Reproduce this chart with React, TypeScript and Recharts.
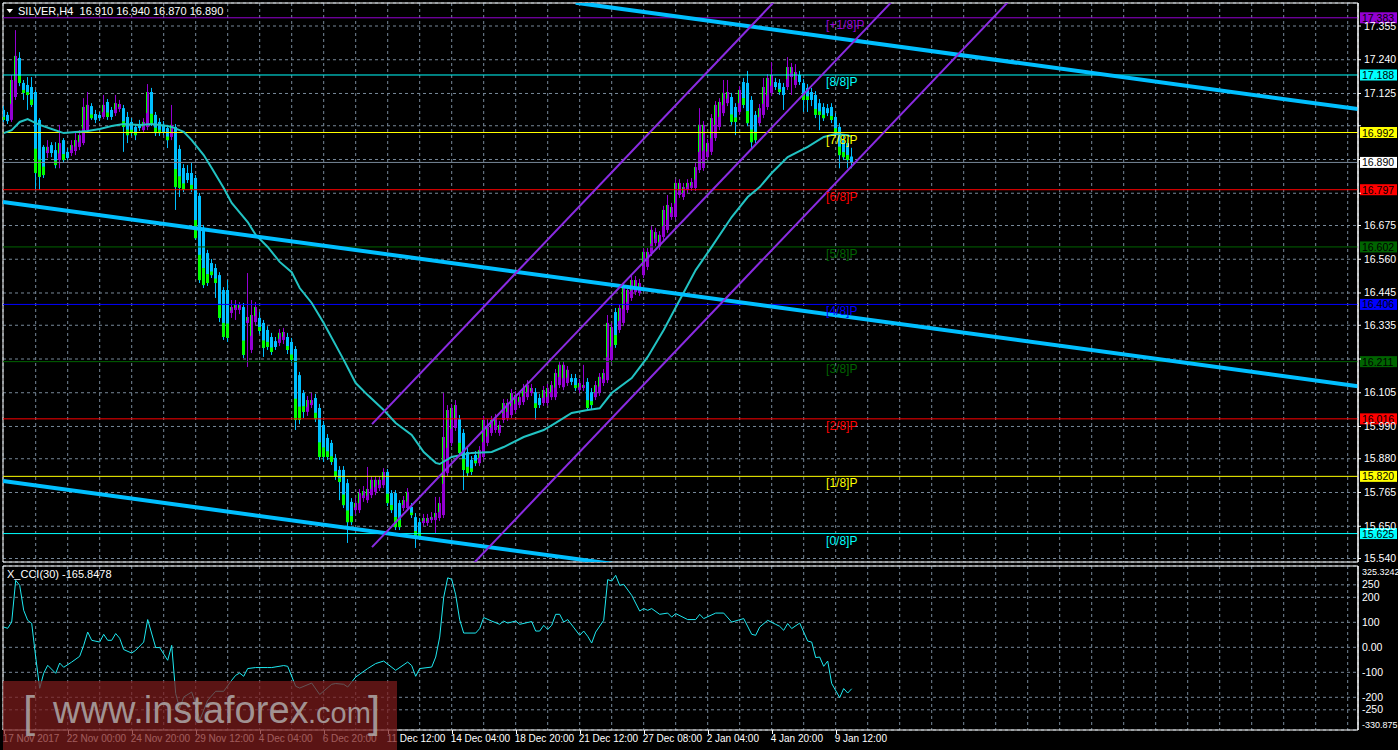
import React from 'react';
import {
  ComposedChart,
  Bar,
  Line,
  XAxis,
  YAxis,
  CartesianGrid,
  ReferenceLine,
  ReferenceArea,
  ReferenceDot,
} from 'recharts';

// [open, high, low, close] per 4h bar, 17 Nov 2017 .. 9 Jan 2018
const CANDLES: [number, number, number, number][] = [
  [17.069, 17.082, 17.028, 17.035], [17.052, 17.062, 17.021, 17.031], [17.035, 17.188, 17.028, 17.171], [17.113, 17.341, 17.103, 17.253],
  [17.246, 17.266, 17.150, 17.161], [17.161, 17.171, 17.103, 17.127], [17.154, 17.181, 17.069, 17.120], [17.147, 17.181, 17.079, 17.086],
  [17.130, 17.137, 16.796, 16.854], [17.035, 17.041, 16.796, 16.841], [16.943, 16.949, 16.837, 16.847], [16.922, 16.966, 16.905, 16.943],
  [16.949, 16.959, 16.908, 16.922], [16.932, 16.959, 16.870, 16.881], [16.898, 17.018, 16.870, 16.956], [16.966, 16.973, 16.888, 16.898],
  [16.926, 16.939, 16.898, 16.905], [16.922, 16.966, 16.912, 16.949], [16.929, 16.994, 16.915, 16.966], [16.943, 17.000, 16.932, 16.983],
  [16.956, 17.109, 16.949, 17.079], [17.000, 17.130, 16.994, 17.086], [17.082, 17.092, 17.035, 17.041], [17.055, 17.069, 17.024, 17.035],
  [17.052, 17.062, 17.031, 17.041], [17.045, 17.120, 17.038, 17.086], [17.096, 17.106, 17.035, 17.045], [17.069, 17.079, 17.035, 17.045],
  [17.058, 17.120, 17.048, 17.092], [17.072, 17.103, 17.062, 17.089], [17.075, 17.086, 16.926, 17.011], [17.045, 17.062, 16.956, 16.983],
  [17.028, 17.041, 16.980, 16.990], [17.011, 17.021, 16.966, 16.983], [17.018, 17.035, 16.997, 17.007], [17.000, 17.041, 16.990, 17.028],
  [17.011, 17.157, 17.000, 17.130], [17.130, 17.144, 17.014, 17.024], [17.052, 17.062, 16.980, 16.990], [17.028, 17.041, 16.980, 16.990],
  [17.018, 17.031, 16.983, 16.994], [17.007, 17.018, 16.939, 16.966], [16.977, 17.086, 16.966, 17.018], [17.011, 17.021, 16.728, 16.806],
  [16.936, 16.949, 16.772, 16.803], [16.871, 16.884, 16.789, 16.796], [16.854, 16.881, 16.820, 16.830], [16.854, 16.888, 16.789, 16.796],
  [16.837, 16.847, 16.626, 16.632], [16.776, 16.786, 16.479, 16.489], [16.667, 16.677, 16.462, 16.472], [16.581, 16.592, 16.469, 16.479],
  [16.547, 16.561, 16.496, 16.506], [16.530, 16.544, 16.428, 16.479], [16.506, 16.516, 16.346, 16.360], [16.455, 16.465, 16.285, 16.295],
  [16.455, 16.489, 16.278, 16.292], [16.377, 16.421, 16.360, 16.397], [16.387, 16.421, 16.353, 16.404], [16.387, 16.414, 16.373, 16.404],
  [16.397, 16.411, 16.223, 16.234], [16.343, 16.513, 16.193, 16.363], [16.251, 16.421, 16.240, 16.370], [16.346, 16.414, 16.336, 16.397],
  [16.360, 16.380, 16.305, 16.316], [16.343, 16.353, 16.227, 16.258], [16.319, 16.332, 16.251, 16.261], [16.295, 16.309, 16.234, 16.244],
  [16.281, 16.295, 16.251, 16.261], [16.275, 16.322, 16.264, 16.309], [16.285, 16.326, 16.271, 16.312], [16.295, 16.309, 16.237, 16.251],
  [16.278, 16.292, 16.206, 16.217], [16.254, 16.264, 15.978, 16.012], [16.165, 16.176, 15.998, 16.012], [16.104, 16.114, 16.019, 16.040],
  [16.040, 16.094, 16.026, 16.080], [16.063, 16.104, 16.053, 16.080], [16.087, 16.101, 16.005, 16.015], [16.053, 16.067, 15.876, 15.886],
  [15.995, 16.009, 15.869, 15.886], [15.951, 15.964, 15.876, 15.886], [15.934, 15.944, 15.859, 15.869], [15.883, 15.896, 15.808, 15.818],
  [15.842, 15.855, 15.739, 15.801], [15.842, 15.855, 15.712, 15.722], [15.797, 15.811, 15.593, 15.664], [15.733, 15.746, 15.654, 15.664],
  [15.705, 15.746, 15.692, 15.729], [15.705, 15.777, 15.695, 15.763], [15.746, 15.787, 15.733, 15.770], [15.739, 15.852, 15.729, 15.777],
  [15.756, 15.821, 15.746, 15.808], [15.767, 15.821, 15.756, 15.808], [15.780, 15.821, 15.770, 15.808], [15.790, 15.848, 15.780, 15.835],
  [15.835, 15.845, 15.719, 15.729], [15.763, 15.773, 15.695, 15.705], [15.763, 15.773, 15.637, 15.647], [15.729, 15.739, 15.637, 15.647],
  [15.712, 15.753, 15.702, 15.739], [15.712, 15.780, 15.702, 15.767], [15.716, 15.729, 15.678, 15.688], [15.681, 15.695, 15.576, 15.613],
  [15.664, 15.678, 15.603, 15.613], [15.661, 15.692, 15.651, 15.678], [15.661, 15.692, 15.651, 15.678], [15.671, 15.698, 15.661, 15.681],
  [15.671, 15.750, 15.627, 15.695], [15.678, 15.750, 15.668, 15.729], [15.688, 16.104, 15.678, 15.954], [15.831, 16.063, 15.821, 16.046],
  [15.934, 16.067, 15.923, 16.053], [15.985, 16.080, 15.975, 16.063], [16.015, 16.029, 15.889, 15.900], [15.968, 15.981, 15.773, 15.842],
  [15.903, 15.917, 15.821, 15.831], [15.876, 15.889, 15.825, 15.835], [15.893, 15.906, 15.855, 15.865], [15.865, 15.923, 15.855, 15.910],
  [15.886, 16.026, 15.876, 16.012], [15.934, 16.015, 15.923, 15.988], [15.968, 16.026, 15.958, 16.012], [15.978, 16.033, 15.968, 16.019],
  [15.968, 16.009, 15.958, 15.995], [16.012, 16.084, 16.002, 16.070], [16.019, 16.084, 16.009, 16.070], [16.029, 16.118, 16.019, 16.104],
  [16.046, 16.111, 16.036, 16.097], [16.063, 16.104, 16.053, 16.090], [16.073, 16.135, 16.063, 16.121], [16.090, 16.148, 16.080, 16.131],
  [16.104, 16.135, 16.094, 16.121], [16.107, 16.121, 16.012, 16.053], [16.087, 16.101, 16.053, 16.063], [16.070, 16.128, 16.060, 16.114],
  [16.070, 16.135, 16.060, 16.121], [16.090, 16.145, 16.080, 16.131], [16.090, 16.186, 16.080, 16.172], [16.131, 16.213, 16.121, 16.200],
  [16.124, 16.213, 16.114, 16.200], [16.138, 16.196, 16.128, 16.183], [16.155, 16.169, 16.131, 16.142], [16.155, 16.169, 16.111, 16.121],
  [16.114, 16.152, 16.104, 16.138], [16.121, 16.200, 16.111, 16.131], [16.142, 16.155, 16.043, 16.053], [16.107, 16.121, 16.046, 16.063],
  [16.090, 16.145, 16.080, 16.131], [16.104, 16.172, 16.094, 16.159], [16.138, 16.186, 16.128, 16.172], [16.148, 16.370, 16.138, 16.343],
  [16.217, 16.343, 16.206, 16.329], [16.380, 16.394, 16.258, 16.268], [16.319, 16.407, 16.309, 16.394], [16.343, 16.476, 16.332, 16.462],
  [16.387, 16.469, 16.377, 16.455], [16.428, 16.503, 16.418, 16.489], [16.448, 16.503, 16.438, 16.489], [16.445, 16.493, 16.435, 16.479],
  [16.506, 16.598, 16.496, 16.585], [16.534, 16.598, 16.523, 16.585], [16.581, 16.673, 16.571, 16.660], [16.615, 16.667, 16.605, 16.653],
  [16.602, 16.656, 16.592, 16.643], [16.636, 16.742, 16.626, 16.728], [16.660, 16.779, 16.650, 16.745], [16.704, 16.752, 16.694, 16.738],
  [16.704, 16.833, 16.694, 16.820], [16.779, 16.833, 16.769, 16.820], [16.772, 16.820, 16.762, 16.806], [16.796, 16.833, 16.786, 16.820],
  [16.803, 16.837, 16.793, 16.823], [16.803, 16.888, 16.793, 16.874], [16.864, 17.075, 16.854, 17.018], [16.871, 17.031, 16.861, 17.018],
  [16.908, 16.970, 16.898, 16.956], [16.926, 17.055, 16.915, 17.041], [16.973, 17.099, 16.963, 17.086], [17.011, 17.109, 17.000, 17.096],
  [17.058, 17.171, 17.048, 17.127], [17.092, 17.171, 17.082, 17.130], [17.113, 17.127, 17.018, 17.028], [17.079, 17.092, 16.983, 17.028],
  [17.062, 17.150, 17.052, 17.137], [17.164, 17.178, 17.075, 17.086], [17.161, 17.202, 17.014, 17.024], [17.103, 17.116, 16.939, 16.959],
  [17.052, 17.065, 16.956, 16.966], [17.024, 17.089, 17.014, 17.075], [17.052, 17.178, 17.041, 17.147], [17.079, 17.191, 17.069, 17.178],
  [17.127, 17.232, 17.116, 17.188], [17.164, 17.178, 17.137, 17.147], [17.161, 17.174, 17.120, 17.130], [17.147, 17.161, 17.069, 17.120],
  [17.147, 17.249, 17.137, 17.215], [17.181, 17.229, 17.120, 17.215], [17.154, 17.225, 17.144, 17.198], [17.188, 17.202, 17.154, 17.164],
  [17.161, 17.174, 17.062, 17.103], [17.144, 17.157, 17.062, 17.103], [17.130, 17.144, 17.082, 17.103], [17.120, 17.133, 17.041, 17.052],
  [17.092, 17.106, 17.000, 17.052], [17.079, 17.092, 17.031, 17.041], [17.075, 17.089, 17.048, 17.058], [17.079, 17.092, 17.024, 17.035],
  [17.045, 17.058, 16.980, 16.990], [17.011, 17.024, 16.870, 16.915], [16.966, 16.980, 16.898, 16.908], [16.956, 16.970, 16.870, 16.898],
  [16.910, 16.940, 16.870, 16.890],
];

// moving average, read at selected bars: [bar, value]
const MA_POINTS: [number, number][] = [
  [0, 16.990], [2, 17.0], [4, 17.028], [6, 17.038], [7, 17.031], [9, 17.018], [12, 17.004], [15, 16.99], [18, 16.994],
  [21, 16.997], [24, 17.004], [27, 17.014], [30, 17.021], [34, 17.018], [37, 17.021], [41, 17.014], [42, 17.011],
  [45, 16.994], [47, 16.966], [50, 16.915], [52, 16.871], [55, 16.803], [57, 16.752], [61, 16.687], [63, 16.643],
  [66, 16.602], [69, 16.551], [72, 16.516], [74, 16.462], [77, 16.411], [80, 16.343], [85, 16.217], [88, 16.138],
  [91, 16.097], [95, 16.046], [98, 16.002], [102, 15.961], [105, 15.903], [108, 15.866], [109, 15.862], [112, 15.886],
  [117, 15.9], [122, 15.903], [125, 15.92], [130, 15.954], [135, 15.978], [138, 16.002], [142, 16.036], [146, 16.046],
  [149, 16.052], [152, 16.104], [157, 16.155], [161, 16.227], [165, 16.319], [169, 16.421], [173, 16.523], [177, 16.602],
  [182, 16.704], [186, 16.772], [189, 16.806], [192, 16.854], [196, 16.908], [201, 16.943], [205, 16.977], [208, 16.987],
  [211, 16.983], [212, 16.977],
];

// X_CCI(30): [bar, value]
const CCI_POINTS: [number, number][] = [
  [0, 81], [1, 76], [2, 101], [3, 268], [4, 248], [5, 148], [6, 108], [7, 96], [8, -39], [9, -164], [10, -104], [11, -72],
  [13, -104], [14, -63], [15, -80], [17, -59], [19, -36], [20, 8], [21, 61], [22, 28], [24, 21], [25, 52], [26, 28], [27, 28],
  [28, 55], [29, 36], [30, -9], [32, -23], [33, -12], [35, 21], [36, 111], [38, -1], [39, -1], [41, -52], [42, 8], [43, -185],
  [44, -245], [45, -199], [47, -179], [48, -225], [49, -292], [51, -212], [53, -176], [55, -176], [57, -132], [58, -112],
  [59, -103], [60, -116], [61, -85], [63, -81], [66, -81], [67, -81], [70, -73], [71, -76], [73, -156], [74, -163], [77, -143],
  [79, -189], [82, -148], [83, -145], [85, -148], [86, -159], [88, -119], [91, -85], [93, -65], [95, -55], [98, -92], [101, -59],
  [102, -73], [103, -116], [104, -85], [107, -79], [108, -39], [109, 41], [110, 200], [111, 278], [112, 272], [113, 210],
  [114, 110], [115, 57], [118, 57], [119, 75], [120, 119], [122, 105], [124, 92], [125, 105], [126, 97], [128, 105], [129, 92],
  [132, 103], [133, 65], [134, 65], [135, 88], [136, 71], [137, 88], [138, 132], [139, 132], [140, 101], [141, 111], [144, 48],
  [145, 65], [146, 44], [147, 17], [148, 61], [150, 108], [151, 271], [152, 265], [153, 288], [154, 248], [155, 252], [157, 208],
  [159, 145], [160, 155], [161, 148], [162, 155], [164, 132], [166, 137], [167, 121], [168, 135], [171, 111], [173, 111],
  [174, 132], [175, 115], [178, 137], [180, 137], [182, 101], [185, 115], [187, 52], [188, 48], [189, 81], [191, 108], [193, 92],
  [194, 84], [195, 68], [196, 95], [197, 75], [199, 97], [201, 25], [202, 21], [203, -41], [204, -39], [205, -76], [206, -55],
  [207, -145], [209, -201], [210, -165], [211, -183], [212, -165.8478],
];

const TIME_LABELS = [
  '17 Nov 2017', '22 Nov 00:00', '24 Nov 20:00', '29 Nov 12:00', '4 Dec 04:00', '6 Dec 20:00', '11 Dec 12:00',
  '14 Dec 04:00', '18 Dec 20:00', '21 Dec 12:00', '27 Dec 08:00', '2 Jan 04:00', '4 Jan 20:00', '9 Jan 12:00',
];
const LABEL_EVERY = 16;
const GRID_TICKS = Array.from({ length: 42 }, (_, k) => 8 * (k + 1));

const PRICE_TICKS = [
  17.355, 17.24, 17.125, 17.015, 16.9, 16.785, 16.675, 16.56, 16.445, 16.335, 16.22, 16.105, 15.99, 15.88, 15.765, 15.65, 15.54,
];
const CCI_TICKS = [325.3242, 250, 200, 100, 0, -100, -200, -250, -330.875];

const MURREY_LEVELS = [17.383, 17.188, 16.992, 16.797, 16.602, 16.406, 16.211, 16.016, 15.82, 15.625];
const MURREY_NAMES = ['[+1/8]P', '[8/8]P', '[7/8]P', '[6/8]P', '[5/8]P', '[4/8]P', '[3/8]P', '[2/8]P', '[1/8]P', '[0/8]P'];
const MURREY_NAME_BAR = 205.6;
const LAST_PRICE = 16.89;

// trend lines as [bar, price] pairs
const BLUE_CHANNEL: [number, number][][] = [
  [[143, 17.4345], [338.575, 17.0717]],
  [[-0.175, 16.755], [338.575, 16.127]],
  [[-0.175, 15.804], [155, 15.5165]],
];
const PURPLE_CHANNEL: [number, number][][] = [
  [[92.075, 15.998], [192.4, 17.4345]],
  [[92.075, 15.579], [221.8, 17.4345]],
  [[117.5, 15.524], [251, 17.4355]],
];

const X_MIN = -0.175;
const X_MAX = 338.575;
const Y_MIN = 15.5281;
const Y_MAX = 17.4334;
const CCI_MIN = -330.875;
const CCI_MAX = 325.3242;

const FONT = '"Liberation Sans", Arial, sans-serif';
const BULL = '#9400d3';
const BEAR = '#00bfff';
const WICK_GREEN = '#00ff00';
const GRID = '#778899';
const MURREY_COLORS = ['#9400d3', '#00ffff', '#ffff00', '#ff0000', '#006400', '#0000ff', '#006400', '#ff0000', '#ffff00', '#00ffff'];
const TAGGED = [...MURREY_LEVELS, LAST_PRICE];

const rows = CANDLES.map(([o, h, l, c], i) => ({
  i,
  o,
  h,
  l,
  c,
  range: [l, h],
  ma: null as number | null,
  cci: null as number | null,
}));
MA_POINTS.forEach(([i, v]) => {
  rows[i].ma = v;
});
CCI_POINTS.forEach(([i, v]) => {
  rows[i].cci = v;
});

function Candle(props: any) {
  const { x, y, width, height, payload } = props;
  if (x == null || !payload) return null;
  const { o, h, l, c } = payload;
  const top = Math.min(y, y + height);
  const bot = Math.max(y, y + height);
  const py = (v: number) => (h === l ? top : top + ((h - v) / (h - l)) * (bot - top));
  const left = Math.round(x + width / 2 - 1.5);
  const bull = c >= o;
  const col = bull ? BULL : BEAR;
  const bt = py(Math.max(o, c));
  const bb = py(Math.min(o, c));
  const bh = Math.max(1, bb - bt);
  return (
    <g>
      <line x1={left + 1.5} x2={left + 1.5} y1={top} y2={bot} stroke={col} strokeWidth={1} />
      <rect x={left} y={bt} width={3} height={bh} fill={col} />
      {bull ? (
        <rect x={left} y={bt} width={1} height={bh * 0.6} fill={WICK_GREEN} />
      ) : bh > 8 ? (
        <rect x={left} y={bb - bh * 0.3} width={3} height={bh * 0.3} fill={WICK_GREEN} />
      ) : null}
    </g>
  );
}

function PriceTag(props: any) {
  const { viewBox, text, bg, fg } = props;
  if (!viewBox) return null;
  const x = viewBox.x + viewBox.width + 2;
  const y = viewBox.y;
  return (
    <g>
      <rect x={x} y={y - 5.5} width={37} height={11} fill={bg} />
      <text x={x + 2} y={y + 4} fontSize={10.5} fill={fg} fontFamily={FONT}>
        {text}
      </text>
    </g>
  );
}

function PriceTick(props: any) {
  const { x, y, payload } = props;
  const v = payload.value;
  // MT4 hides the axis value behind a level tag
  if (TAGGED.some((t) => Math.abs(t - v) < 0.024)) return null;
  return (
    <text x={x} y={y + 3.5} fontSize={10.5} fill="#fff" fontFamily={FONT} textAnchor="start">
      {v.toFixed(3)}
    </text>
  );
}

function CciTick(props: any) {
  const { x, y, payload } = props;
  const v = payload.value;
  const edge = v === CCI_MAX || v === CCI_MIN;
  let dy = 3.5;
  if (v === CCI_MAX) dy = 9;
  if (v === CCI_MIN) dy = -2.5;
  const txt = v === 0 ? '0.00' : String(v);
  return (
    <text x={x} y={y + dy} fontSize={edge ? 9 : 10.5} fill="#fff" fontFamily={FONT} textAnchor="start">
      {txt}
    </text>
  );
}

function TimeLabel({ cx, cy, label }: any) {
  if (cx == null || cy == null) return null;
  const lx = Math.round(cx) + 0.5;
  return (
    <g>
      <line x1={lx} x2={lx} y1={cy} y2={cy + 4} stroke="#fff" />
      <text x={cx - 1} y={cy + 12} fontSize={10} fill="#fff" fontFamily={FONT} textAnchor="start">
        {label}
      </text>
    </g>
  );
}

function MainChart() {
  return (
    <ComposedChart width={1398} height={564} data={rows} margin={{ top: 3, right: 0, bottom: 2, left: 3 }}>
      <CartesianGrid stroke={GRID} strokeDasharray="3 3" />
      <XAxis
        type="number"
        dataKey="i"
        domain={[X_MIN, X_MAX]}
        ticks={GRID_TICKS}
        interval={0}
        allowDataOverflow
        hide
      />
      <YAxis
        orientation="right"
        type="number"
        domain={[Y_MIN, Y_MAX]}
        ticks={PRICE_TICKS}
        interval={0}
        allowDataOverflow
        width={40}
        axisLine={{ stroke: '#fff' }}
        tickLine={{ stroke: '#fff' }}
        tickSize={3}
        tickMargin={3}
        tick={<PriceTick />}
      />
      {MURREY_LEVELS.map((v, k) => (
        <ReferenceLine
          key={'m' + k}
          y={v}
          stroke={MURREY_COLORS[k]}
          strokeWidth={1}
          label={<PriceTag text={v.toFixed(3)} bg={MURREY_COLORS[k]} fg="#000" />}
        />
      ))}
      <ReferenceLine
        y={LAST_PRICE}
        stroke={GRID}
        strokeWidth={1}
        label={<PriceTag text={LAST_PRICE.toFixed(3)} bg="#fff" fg="#000" />}
      />
      <Bar dataKey="range" barSize={3} isAnimationActive={false} shape={(p: any) => <Candle {...p} />} />
      <Line
        dataKey="ma"
        connectNulls
        dot={false}
        stroke="#22c3c3"
        strokeWidth={2}
        isAnimationActive={false}
      />
      {BLUE_CHANNEL.map((seg, k) => (
        <ReferenceLine
          key={'b' + k}
          segment={seg.map(([x, y]) => ({ x, y }))}
          stroke={BEAR}
          strokeWidth={4}
          ifOverflow="hidden"
        />
      ))}
      {PURPLE_CHANNEL.map((seg, k) => (
        <ReferenceLine
          key={'p' + k}
          segment={seg.map(([x, y]) => ({ x, y }))}
          stroke="#8a2be2"
          strokeWidth={2}
          ifOverflow="hidden"
        />
      ))}
      {MURREY_LEVELS.map((v, k) => (
        <ReferenceDot
          key={'n' + k}
          x={MURREY_NAME_BAR}
          y={v}
          r={0}
          shape={(p: any) => (
            <text x={p.cx} y={p.cy + 11} fontSize={12} fill={MURREY_COLORS[k]} fontFamily={FONT}>
              {MURREY_NAMES[k]}
            </text>
          )}
        />
      ))}
      <ReferenceArea x1={X_MIN} x2={X_MAX} y1={Y_MIN} y2={Y_MAX} fill="none" stroke="#fff" strokeWidth={1} />
    </ComposedChart>
  );
}

function CciChart() {
  return (
    <ComposedChart width={1398} height={184} data={rows} margin={{ top: 1, right: 0, bottom: 19, left: 3 }}>
      <CartesianGrid stroke={GRID} strokeDasharray="3 3" />
      <XAxis
        type="number"
        dataKey="i"
        domain={[X_MIN, X_MAX]}
        ticks={GRID_TICKS}
        interval={0}
        allowDataOverflow
        hide
      />
      <YAxis
        orientation="right"
        type="number"
        domain={[CCI_MIN, CCI_MAX]}
        ticks={CCI_TICKS}
        interval={0}
        allowDataOverflow
        width={40}
        axisLine={{ stroke: '#fff' }}
        tickLine={false}
        tickSize={2}
        tickMargin={2}
        tick={<CciTick />}
      />
      <Line dataKey="cci" connectNulls dot={false} stroke="#1ee8f0" strokeWidth={1} isAnimationActive={false} />
      <ReferenceArea x1={X_MIN} x2={X_MAX} y1={CCI_MIN} y2={CCI_MAX} fill="none" stroke="#fff" strokeWidth={1} />
      {TIME_LABELS.map((label, k) => (
        <ReferenceDot
          key={'t' + k}
          x={k * LABEL_EVERY}
          y={CCI_MIN}
          r={0}
          ifOverflow="visible"
          shape={(p: any) => <TimeLabel cx={p.cx} cy={p.cy} label={label} />}
        />
      ))}
    </ComposedChart>
  );
}

export default function App() {
  return (
    <div
      style={{
        position: 'fixed',
        left: 0,
        top: 0,
        width: 1398,
        height: 750,
        background: '#000',
        overflow: 'hidden',
        fontFamily: FONT,
      }}
    >
      <div style={{ position: 'absolute', left: 0, top: 0 }}>
        <MainChart />
      </div>
      <div style={{ position: 'absolute', left: 0, top: 565 }}>
        <CciChart />
      </div>
      <svg style={{ position: 'absolute', left: 0, top: 0 }} width={400} height={20}>
        <polygon points="6.5,9 13,9 9.75,13" fill="#fff" />
        <text x={18} y={15} fontSize={11} fill="#fff" fontFamily={FONT} xmlSpace="preserve">
          SILVER,H4  16.910 16.940 16.870 16.890
        </text>
      </svg>
      <div
        style={{
          position: 'absolute',
          left: 7,
          top: 568,
          fontSize: 11,
          color: '#fff',
          whiteSpace: 'pre',
        }}
      >
        X_CCI(30) -165.8478
      </div>
      <div
        style={{
          position: 'absolute',
          left: 3,
          top: 681,
          width: 394,
          height: 69,
          background: 'rgba(125,28,28,0.72)',
          color: 'rgba(175,170,170,0.85)',
          whiteSpace: 'pre',
        }}
      >
        <span style={{ position: 'absolute', left: 20, top: 6, fontSize: 44, fontWeight: 300 }}>[</span>
        <span style={{ position: 'absolute', left: 50, top: 8, fontSize: 38 }}>www.instaforex</span>
        <span style={{ position: 'absolute', left: 305, top: 16, fontSize: 29 }}>.com</span>
        <span style={{ position: 'absolute', left: 365, top: 6, fontSize: 44, fontWeight: 300 }}>]</span>
      </div>
    </div>
  );
}
